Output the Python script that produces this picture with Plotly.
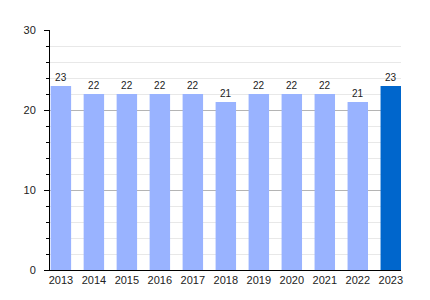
import plotly.graph_objects as go

years = ["2013", "2014", "2015", "2016", "2017", "2018", "2019", "2020", "2021", "2022", "2023"]
values = [23, 22, 22, 22, 22, 21, 22, 22, 22, 21, 23]
colors = ["#99b3ff"] * 10 + ["#0066cc"]

fig = go.Figure(go.Bar(
    x=list(range(len(years))),
    y=values,
    marker=dict(color=colors, line=dict(width=0)),
    width=0.62,
    text=[str(v) for v in values],
    textposition="outside",
    textfont=dict(size=10, color="#222222", family="Liberation Sans"),
    cliponaxis=False,
))

fig.update_layout(
    width=422, height=292,
    margin=dict(l=42, r=29, t=22, b=30),
    paper_bgcolor="white", plot_bgcolor="white",
    font=dict(family="Liberation Sans", size=11, color="#222222"),
    showlegend=False,
)
fig.update_xaxes(
    tickmode="array",
    tickvals=list(range(len(years))),
    ticktext=years,
    range=[-0.33, 10.31],
    showgrid=False,
    showline=True, linecolor="black", linewidth=1,
    ticks="", tickfont=dict(size=11),
    zeroline=False,
)
fig.update_yaxes(
    range=[0, 30],
    dtick=10,
    showgrid=True, gridcolor="#b4b4b4", gridwidth=1,
    showline=True, linecolor="black", linewidth=1,
    ticks="outside", ticklen=5, tickcolor="black",
    ticklabelstandoff=6,
    minor=dict(dtick=2, showgrid=True, gridcolor="#e8e8e8", ticks="outside", ticklen=3, tickcolor="black"),
    zeroline=False,
    tickfont=dict(size=11),
)

fig.write_html("out.html")
